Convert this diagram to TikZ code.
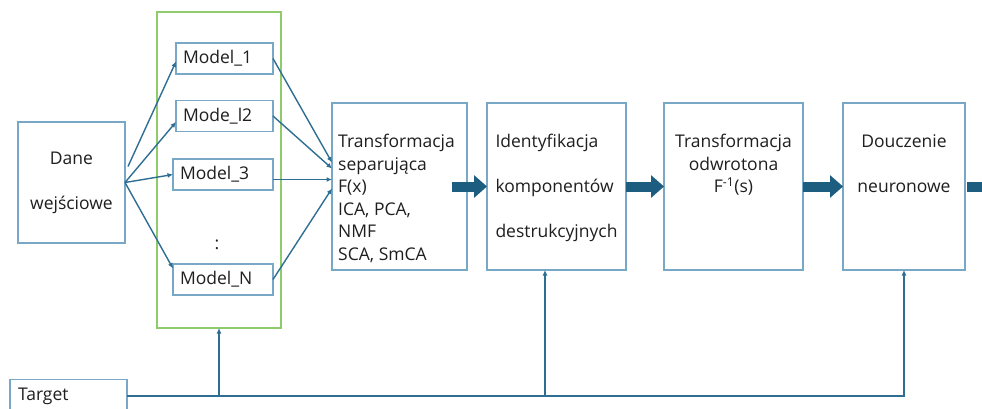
\documentclass[tikz,border=0pt]{standalone}
\usepackage{fontspec}
\setmainfont{Open Sans}
\usetikzlibrary{arrows.meta,positioning}
\definecolor{BoxBlue}{HTML}{78A8C6}
\definecolor{LinkBlue}{HTML}{2E6E93}
\definecolor{FlowBlue}{HTML}{1D5E80}
\definecolor{ModelGreen}{HTML}{8FCB6B}
\definecolor{InkGray}{HTML}{1F1F1F}

\begin{document}
\begin{tikzpicture}[x=1pt,y=-1pt,
box/.style={draw=BoxBlue,line width=1.2pt,inner sep=0pt,outer sep=0pt,fill=white},
model/.style={box,minimum height=31pt,inner sep=7pt,align=left,text=InkGray,font=\fontsize{17.5}{20}\selectfont},
txt/.style={inner sep=0pt,text=InkGray,font=\fontsize{17.5}{22.5}\selectfont},
widetxt/.style={txt,font=\fontsize{17.5}{45}\selectfont},
arr/.style={-{Latex[length=5.5pt,width=5pt]},LinkBlue,line width=1.4pt},
bigarr/.style={-{Triangle[length=13pt,width=22pt]},FlowBlue,line width=10pt}
]
\useasboundingbox (0,0) rectangle (982,408);
\node[box,draw=ModelGreen,line width=1.6pt,minimum width=124pt,minimum height=316pt] (models) at (219,170) {};
\node[model,text width=83pt] (m1) at (224.5,58.5) {Model\_1};
\node[model,text width=83pt] (m2) at (224.5,116) {Mode\_l2};
\node[model,text width=86pt] (m3) at (223,174.5) {Model\_3};
\node[txt] (dots) at (217,245) {:};
\node[model,text width=86pt] (mN) at (223,279.5) {Model\_N};
\node[box,widetxt,inner sep=0pt,align=center,minimum width=107pt,minimum height=121pt] (dane) at (71.5,182.5) {Dane\\wejściowe};
\node[box,minimum width=135pt,minimum height=167pt] (tsep) at (399.5,186.5) {};
\node[txt,align=left,below right=31pt and 6pt of tsep.north west] (tseptxt) {Transformacja\\separująca\\F(x)\\ICA, PCA,\\NMF\\SCA, SmCA};
\node[box,minimum width=139pt,minimum height=167pt] (ident) at (556.5,186.5) {};
\node[widetxt,align=left,below=31pt of ident.north] (identtxt) {Identyfikacja\\komponentów\\destrukcyjnych};
\node[box,minimum width=139pt,minimum height=167pt] (odw) at (733.5,186.5) {};
\node[txt,align=center,below=31pt of odw.north] (odwtxt) {Transformacja\\odwrotona\\F\textsuperscript{-1}(s)};
\node[box,minimum width=122pt,minimum height=167pt] (douc) at (904,186.5) {};
\node[widetxt,align=center,below=31pt of douc.north] (douctxt) {Douczenie\\neuronowe};
\node[box,txt,text width=101pt,inner sep=8pt,minimum height=32pt,align=left] (target) at (68.5,396) {Target};
\coordinate (out) at (1000,186.5);
\coordinate (identin) at ([xshift=-11.5pt]ident.south);
\draw[arr] ([shift={(3pt,16pt)}]dane.east) -- ([yshift=-3pt]m1.west);
\draw[arr] (dane.east) -- ([yshift=-6pt]m2.west);
\draw[arr] (dane.east) -- (m3.west);
\draw[arr] (dane.east) -- ([yshift=11pt]mN.west);
\draw[arr] (m1.east) -- ([yshift=24pt]tsep.west);
\draw[arr] (m2.east) -- ([yshift=18pt]tsep.west);
\draw[arr] ([yshift=-5pt]m3.east) -- ([yshift=7pt]tsep.west);
\draw[arr] (mN.east) -- ([yshift=-2pt]tsep.west);
\draw[bigarr] ([xshift=-15pt]tsep.east) -- (ident.west);
\draw[bigarr] (ident.east) -- (odw.west);
\draw[bigarr] (odw.east) -- (douc.west);
\draw[bigarr] ([xshift=2pt]douc.east) -- (out);
\draw[arr,line width=1.8pt] (target.east) -| (douc.south);
\draw[arr] (target.east -| models.south) -- (models.south);
\draw[arr] (target.east -| identin) -- (identin);
\end{tikzpicture}
\end{document}
